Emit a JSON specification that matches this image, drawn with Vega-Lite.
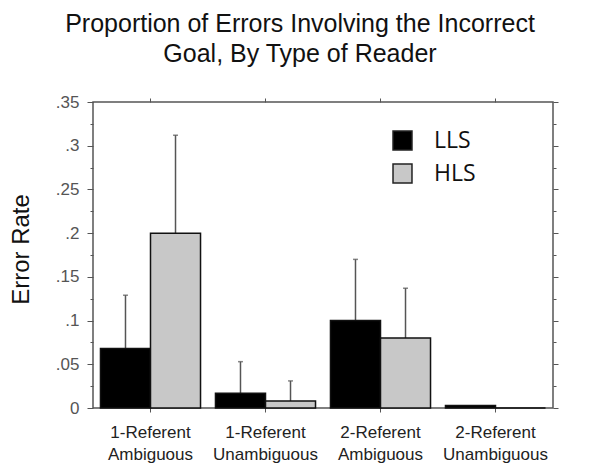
{
  "$schema": "https://vega.github.io/schema/vega-lite/v6.json",
  "autosize": {"type": "none"},
  "width": 460,
  "height": 306,
  "padding": {"left": 93, "top": 102, "right": 47, "bottom": 62},
  "background": "white",
  "title": {
    "text": ["Proportion of Errors Involving the Incorrect", "Goal, By Type of Reader"],
    "font": "Liberation Sans",
    "fontSize": 25,
    "fontWeight": "normal",
    "color": "#111",
    "lineHeight": 30,
    "anchor": "middle",
    "dx": -23,
    "offset": 26
  },
  "data": {
    "values": [
      {"condition": "1-Referent Ambiguous", "reader": "LLS", "rate": 0.068, "upper": 0.129},
      {"condition": "1-Referent Ambiguous", "reader": "HLS", "rate": 0.2, "upper": 0.312},
      {"condition": "1-Referent Unambiguous", "reader": "LLS", "rate": 0.017, "upper": 0.053},
      {"condition": "1-Referent Unambiguous", "reader": "HLS", "rate": 0.008, "upper": 0.031},
      {"condition": "2-Referent Ambiguous", "reader": "LLS", "rate": 0.1, "upper": 0.17},
      {"condition": "2-Referent Ambiguous", "reader": "HLS", "rate": 0.08, "upper": 0.137},
      {"condition": "2-Referent Unambiguous", "reader": "LLS", "rate": 0.003, "upper": null},
      {"condition": "2-Referent Unambiguous", "reader": "HLS", "rate": 0, "upper": null}
    ]
  },
  "resolve": {"axis": {"x": "independent", "y": "independent"}},
  "layer": [
    {
      "mark": {"type": "rule", "color": "#555", "strokeWidth": 1.5},
      "encoding": {
        "x": {"field": "condition", "type": "nominal", "sort": null, "axis": null},
        "xOffset": {"field": "reader", "type": "nominal", "sort": ["LLS", "HLS"]},
        "y": {"field": "rate", "type": "quantitative", "axis": null},
        "y2": {"field": "upper"}
      }
    },
    {
      "mark": {"type": "tick", "color": "#555", "thickness": 1.5, "size": 5, "orient": "horizontal"},
      "transform": [{"filter": "datum.upper != null"}],
      "encoding": {
        "x": {
          "field": "condition", "type": "nominal", "sort": null,
          "axis": {"orient": "top", "title": null, "labels": false, "domain": false, "tickColor": "#555", "tickSize": 4}
        },
        "xOffset": {"field": "reader", "type": "nominal", "sort": ["LLS", "HLS"]},
        "y": {
          "field": "upper", "type": "quantitative",
          "axis": {
            "orient": "right", "title": null, "labels": false, "domain": false, "grid": false,
            "values": [0, 0.025, 0.05, 0.075, 0.1, 0.125, 0.15, 0.175, 0.2, 0.225, 0.25, 0.275, 0.3, 0.325, 0.35],
            "tickColor": "#555",
            "tickSize": {"condition": {"test": "round(datum.value * 1000) % 50 == 0", "value": 5}, "value": 3}
          }
        }
      }
    },
    {
      "mark": {"type": "bar", "stroke": "#111", "strokeWidth": 1.5},
      "encoding": {
        "x": {
          "field": "condition",
          "type": "nominal",
          "sort": null,
          "scale": {"paddingInner": 0.13, "paddingOuter": 0.065},
          "axis": {
            "title": null,
            "labelAngle": 0,
            "labelExpr": "split(datum.label, ' ')",
            "labelFont": "Liberation Sans",
            "labelFontSize": 17,
            "labelColor": "#222",
            "labelLineHeight": 22,
            "labelPadding": 12,
            "domain": false,
            "tickColor": "#555",
            "tickSize": 4
          }
        },
        "xOffset": {"field": "reader", "type": "nominal", "sort": ["LLS", "HLS"], "scale": {"paddingInner": 0, "paddingOuter": 0}},
        "y": {
          "field": "rate",
          "type": "quantitative",
          "scale": {"domain": [0, 0.35], "nice": false},
          "axis": {
            "title": "Error Rate",
            "titleFont": "Liberation Sans",
            "titleFontSize": 24,
            "titleFontWeight": "normal",
            "titleColor": "#111",
            "titlePadding": 22,
            "titleY": 147,
            "values": [0, 0.025, 0.05, 0.075, 0.1, 0.125, 0.15, 0.175, 0.2, 0.225, 0.25, 0.275, 0.3, 0.325, 0.35],
            "labelExpr": "datum.value == 0 ? '0' : (round(datum.value * 1000) % 50 == 0 ? substring(format(datum.value, '~g'), 1) : '')",
            "labelFont": "Liberation Sans",
            "labelFontSize": 17,
            "labelColor": "#555",
            "labelPadding": 8,
            "tickColor": "#555",
            "tickSize": {"condition": {"test": "round(datum.value * 1000) % 50 == 0", "value": 6}, "value": 3},
            "domain": false,
            "grid": false
          }
        },
        "fill": {
          "field": "reader",
          "type": "nominal",
          "sort": ["LLS", "HLS"],
          "scale": {"domain": ["LLS", "HLS"], "range": ["#000000", "#c8c8c8"]},
          "legend": {
            "title": null,
            "orient": "none",
            "legendX": 298,
            "legendY": 27,
            "symbolType": "square",
            "symbolSize": 360,
            "symbolStrokeColor": "#222",
            "symbolStrokeWidth": 1.5,
            "labelFont": "Open Sans",
            "labelFontSize": 23,
            "labelColor": "#111",
            "labelOffset": 20,
            "rowPadding": 8
          }
        }
      }
    }
  ],
  "config": {
    "view": {"stroke": "#555", "strokeWidth": 1.5}
  }
}
